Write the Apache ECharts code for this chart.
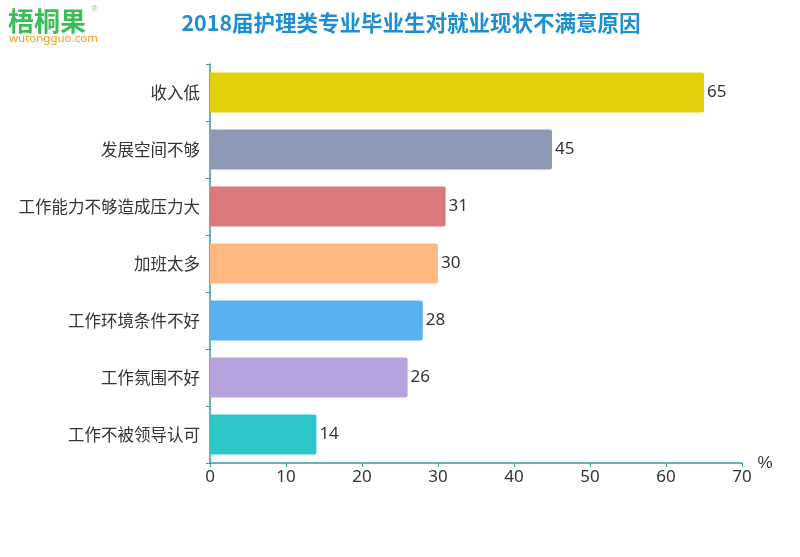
<!DOCTYPE html>
<html><head><meta charset="utf-8">
<script src="https://cdn.jsdelivr.net/npm/echarts@6/dist/echarts.min.js"></script>
<style>html,body{margin:0;padding:0;background:#fff}#c{width:800px;height:557px}</style>
</head><body><div id="c"></div>
<script>
const categories = ['收入低','发展空间不够','工作能力不够造成压力大','加班太多','工作环境条件不好','工作氛围不好','工作不被领导认可'];
const values = [65,45,31,30,28,26,14];
const colors = ['#E3CF0B','#8E9AB5','#DA7A7E','#FFB880','#5AB1EF','#B6A2DE','#2EC7C9'];
const xTicks = [0,10,20,30,40,50,60,70];

const chart = echarts.init(document.getElementById('c'));
chart.setOption({
  animation:false,
  title:[
    {text:'2018届护理类专业毕业生对就业现状不满意原因',left:406,textAlign:'center',top:7,
     textStyle:{color:'#1B8FD2',fontSize:21.5,fontWeight:'bold',fontFamily:'Noto Sans CJK SC'}},
    {text:'梧桐果',left:8,top:8,padding:0,textStyle:{color:'#3BBE57',fontSize:26,fontWeight:'bold',fontFamily:'Noto Sans CJK SC'}},
    {text:'wutongguo.com',left:9,top:33,padding:0,textStyle:{color:'#F39A1E',fontSize:11.5,fontWeight:'normal',fontFamily:'Noto Sans'}},
    {text:'®',left:91,top:5,padding:0,textStyle:{color:'#8CCB8E',fontSize:9,fontWeight:'normal'}}
  ],
  grid:{left:210,right:58,top:64,bottom:94,containLabel:false},
  xAxis:{type:'value',min:0,max:70,interval:10,name:'%',nameGap:14,
    nameTextStyle:{color:'#333',fontSize:17,verticalAlign:'middle',padding:[0,0,4,0]},
    axisLine:{show:true,lineStyle:{color:'#3E95A3',width:1.5}},
    axisTick:{show:true,length:4,lineStyle:{color:'#3E95A3'}},
    axisLabel:{color:'#333',fontSize:17,margin:6,fontFamily:'Noto Sans',
      formatter:v=>xTicks.includes(v)?String(v):''},
    splitLine:{show:false}},
  yAxis:{type:'category',data:categories,inverse:true,
    axisLine:{show:true,lineStyle:{color:'#3E95A3',width:1.5}},
    axisTick:{show:true,length:4,lineStyle:{color:'#3E95A3'}},
    axisLabel:{color:'#333',fontSize:16.5,margin:10,fontFamily:'Noto Sans CJK SC'}},
  series:[{type:'bar',barWidth:40,
    data:values.map((v,i)=>({value:v,itemStyle:{color:colors[i]}})),
    itemStyle:{borderRadius:[0,2,2,0]},
    label:{show:true,position:'right',distance:3,color:'#333',fontSize:17,fontFamily:'Noto Sans'}
  }]
});
</script></body></html>
